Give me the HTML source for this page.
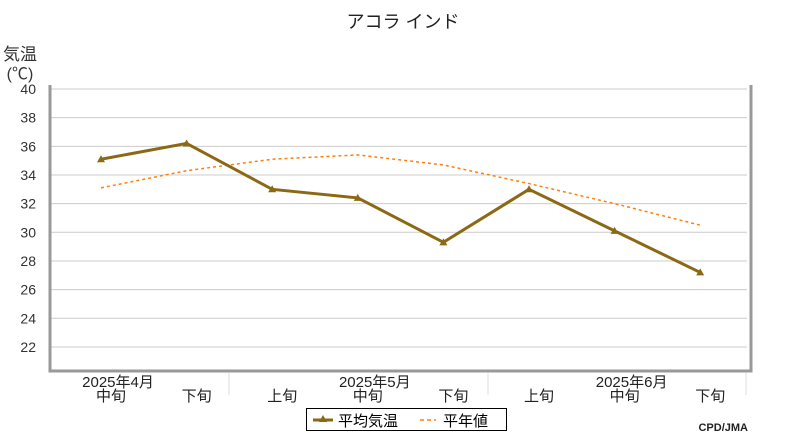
<!DOCTYPE html>
<html><head><meta charset="utf-8"><style>
body{margin:0;background:#fff;}
svg text{font-family:"Liberation Sans","Noto Sans CJK JP",sans-serif;}
</style></head><body>
<svg id="chart" width="800" height="440" xmlns="http://www.w3.org/2000/svg">
<text x="403" y="28" text-anchor="middle" font-size="18" fill="#222">アコラ インド</text>
<text x="20" y="60" text-anchor="middle" font-size="17" fill="#333">気温</text>
<text x="20" y="79" text-anchor="middle" font-size="16" fill="#333">(℃)</text>
<g id="grid"></g>
<g id="frame"></g>
<g id="xaxis"></g>
<g id="series"></g>
<g>
<rect x="306.5" y="408.5" width="200" height="22" fill="#fff" stroke="#000"/>
<g>
<line x1="313" y1="420" x2="333" y2="420" stroke="#8B6914" stroke-width="3"/>
<polygon points="323,415 327,422 319,422" fill="#8B6914"/>
<text x="338" y="426" font-size="15" fill="#000">平均気温</text></g>
<g>
<line x1="420" y1="420" x2="436" y2="420" stroke="#FF7F0E" stroke-width="1.5" stroke-dasharray="4,3"/>
<text x="443" y="426" font-size="15" fill="#000">平年値</text></g>
</g>
<text x="748" y="431" text-anchor="end" font-size="11" font-weight="bold" fill="#222" font-family="Liberation Mono">CPD/JMA</text>
</svg>
<script>
const categories=["中旬","下旬","上旬","中旬","下旬","上旬","中旬","下旬"];
const monthLabels=["2025年4月","2025年5月","2025年6月"];
const meanTemp=[35.1,36.2,33.0,32.4,29.3,33.0,30.1,27.2];
const normalTemp=[33.1,34.3,35.1,35.4,34.7,33.4,32.0,30.5];
const yTicks=[22,24,26,28,30,32,34,36,38,40];
const NS="http://www.w3.org/2000/svg";
const L=50,R=751,T=85,B=371;
function y(v){return 89+(40-v)*14.33;}
function x(i){return 101+i*85.6;}
function mk(tag,attrs,parent){const e=document.createElementNS(NS,tag);for(const k in attrs)e.setAttribute(k,attrs[k]);document.getElementById(parent).appendChild(e);return e;}
yTicks.forEach(v=>{
 const g=mk("line",{x1:L,x2:R-4,y1:y(v),y2:y(v),stroke:"#ccc","stroke-width":1},"grid");
 
 
 const t=mk("text",{x:36,y:y(v)+5,"text-anchor":"end","font-size":14,fill:"#333"},"grid");
 t.textContent=v;
 
 
});
const fr=mk("path",{d:`M${L},${T} V${B} H${R} V${T}`,fill:"none",stroke:"#999","stroke-width":3},"frame");


[229,488,746].forEach(sx=>{
 const s=mk("line",{x1:sx,x2:sx,y1:373,y2:395,stroke:"#ddd","stroke-width":1},"xaxis");
 
 
});
categories.forEach((c,i)=>{
 const t=mk("text",{x:x(i)+10,y:401,"text-anchor":"middle","font-size":15,fill:"#222"},"xaxis");
 t.textContent=c;
 
 
});
monthLabels.forEach((m,j)=>{
 const t=mk("text",{x:x(j*3)+17,y:387,"text-anchor":"middle","font-size":15,fill:"#222"},"xaxis");
 t.textContent=m;
 
 
});
const np=mk("polyline",{points:normalTemp.map((v,i)=>x(i)+","+y(v)).join(" "),fill:"none",stroke:"#FF7F0E","stroke-width":1.5,"stroke-dasharray":"3,3"},"series");


const mp=mk("polyline",{points:meanTemp.map((v,i)=>x(i)+","+y(v)).join(" "),fill:"none",stroke:"#8B6914","stroke-width":3},"series");


meanTemp.forEach((v,i)=>{
 const px=x(i),py=y(v);
 const p=mk("polygon",{points:`${px},${py-4} ${px+4},${py+3} ${px-4},${py+3}`,fill:"#8B6914"},"series");
 
 
});
</script>
</body></html>
